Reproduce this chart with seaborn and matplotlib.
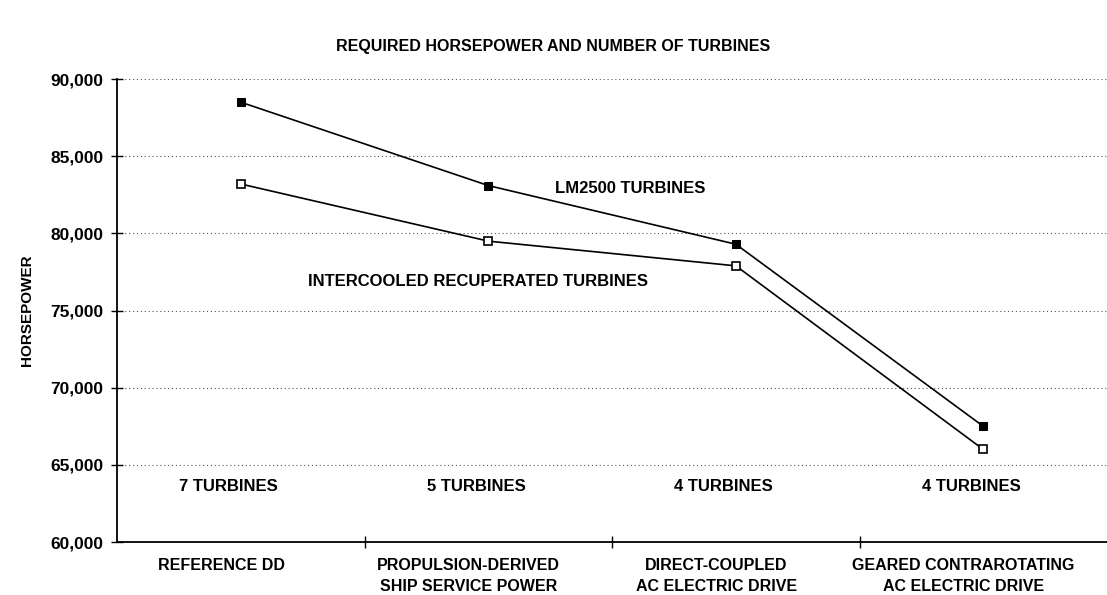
import numpy as np
import pandas as pd
import matplotlib
matplotlib.use("Agg")
import matplotlib.pyplot as plt
import seaborn as sns

# Chart data
configurations = ["REFERENCE DD", "PROPULSION-DERIVED\nSHIP SERVICE POWER",
                  "DIRECT-COUPLED\nAC ELECTRIC DRIVE",
                  "GEARED CONTRAROTATING\nAC ELECTRIC DRIVE"]
turbine_counts = ["7 TURBINES", "5 TURBINES", "4 TURBINES", "4 TURBINES"]
lm2500_hp = [88500, 83100, 79300, 67500]
icr_hp = [83200, 79500, 77900, 66000]
y_ticks = [60000, 65000, 70000, 75000, 80000, 85000, 90000]

sns.set_theme(style="white")
plt.rcParams["font.family"] = ["Liberation Sans", "DejaVu Sans"]
plt.rcParams["font.weight"] = "bold"
plt.rcParams["text.color"] = "black"
plt.rcParams["axes.labelcolor"] = "black"

pos = np.arange(len(configurations)) + 0.5
df = pd.DataFrame({
    "pos": np.concatenate([pos, pos]),
    "hp": lm2500_hp + icr_hp,
    "series": ["LM2500"] * 4 + ["ICR"] * 4,
})

fig = plt.figure(figsize=(11.07, 5.95), dpi=100)
ax = fig.add_axes([0.106, 0.089, 0.894, 0.778])

for y in y_ticks[1:]:
    ax.axhline(y, color="#555555", lw=0.8, ls=(0, (1, 2.5)), zorder=0)

sns.lineplot(data=df[df.series == "LM2500"], x="pos", y="hp", ax=ax,
             color="black", lw=1.2, marker="s", markersize=6,
             markerfacecolor="black", markeredgecolor="black", zorder=3)
sns.lineplot(data=df[df.series == "ICR"], x="pos", y="hp", ax=ax,
             color="black", lw=1.2, marker="s", markersize=6,
             markerfacecolor="white", markeredgecolor="black",
             markeredgewidth=1.2, zorder=3)

ax.set_xlim(0, 4)
ax.set_ylim(60000, 90000)
ax.set_yticks(y_ticks)
ax.set_yticklabels([f"{v:,}" for v in y_ticks], fontsize=12.5,
                   fontweight="bold", color="black")
ax.set_xticks([1, 2, 3])
ax.set_xticklabels([])
for p, lab in zip(pos, configurations):
    ax.text(p - 0.08, -0.035, lab, transform=ax.get_xaxis_transform(),
            ha="center", va="top", fontsize=11.5, fontweight="bold",
            linespacing=1.45)
for p, lab in zip(pos, turbine_counts):
    ax.text(p - 0.05, 63600, lab, ha="center", va="center", fontsize=12,
            fontweight="bold")

ax.text(1.77, 82900, "LM2500 TURBINES", ha="left", va="center",
        fontsize=12, fontweight="bold")
ax.text(0.77, 76900, "INTERCOOLED RECUPERATED TURBINES", ha="left",
        va="center", fontsize=12, fontweight="bold")

ax.set_xlabel("")
ax.set_ylabel("HORSEPOWER", fontsize=11, fontweight="bold", labelpad=12)
ax.tick_params(axis="y", direction="inout", length=8, width=1, left=True,
               pad=6, colors="black")
ax.tick_params(axis="x", direction="inout", length=8, width=1, bottom=True,
               colors="black")
for s in ["top", "right"]:
    ax.spines[s].set_visible(False)
for s in ["left", "bottom"]:
    ax.spines[s].set_color("black")
    ax.spines[s].set_linewidth(1.3)

fig.text(0.5, 0.922, "REQUIRED HORSEPOWER AND NUMBER OF TURBINES",
         ha="center", va="center", fontsize=11.5, fontweight="bold")

fig.savefig("out.png", dpi=100, facecolor="white")
